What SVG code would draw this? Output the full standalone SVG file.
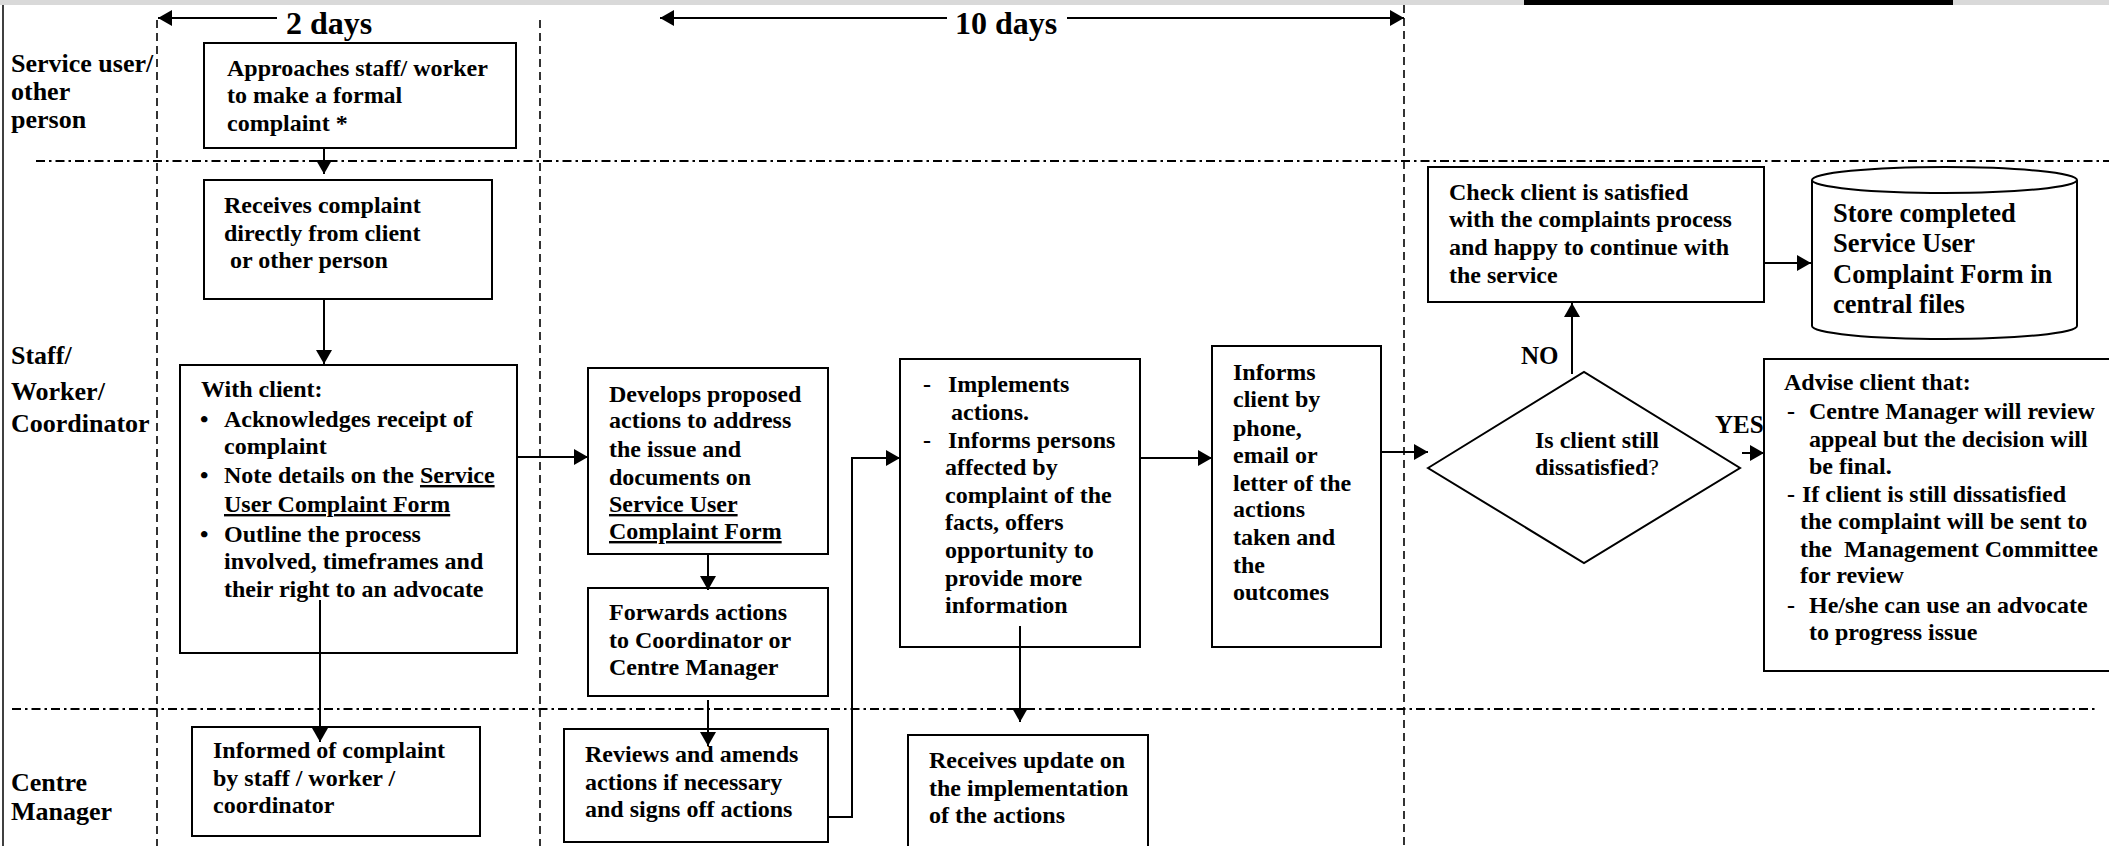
<svg xmlns="http://www.w3.org/2000/svg" width="2109" height="846" viewBox="0 0 2109 846">
<defs>
<style>
.t{font-family:"Liberation Serif","Times New Roman",serif;font-weight:bold;font-size:24px;fill:#000}
.lane{font-size:26px}
.big{font-size:32px}
.store{font-size:26.5px}
.lbl{font-size:25px}
.u{text-decoration:underline}
.box{fill:#fff;stroke:#000;stroke-width:2}
.conn{fill:none;stroke:#000;stroke-width:2}
.dd{fill:none;stroke:#000;stroke-width:1.8;stroke-dasharray:9 4 2.5 4}
.vd{fill:none;stroke:#000;stroke-width:1.6;stroke-dasharray:8 5}
</style>
<marker id="ah" markerUnits="userSpaceOnUse" markerWidth="15" markerHeight="16" refX="14" refY="8" orient="auto-start-reverse" viewBox="0 0 15 16">
<path d="M0,0 L14,8 L0,16 z" fill="#000"/>
</marker>
</defs>
<rect x="0" y="0" width="2109" height="846" fill="#fff"/>
<g id="page">
<rect x="0" y="0" width="2109" height="5" fill="#d9d9d9"/>
<rect x="1524" y="0" width="429" height="5" fill="#000"/>
<line x1="3" y1="5" x2="3" y2="846" stroke="#000" stroke-width="1.5"/>
</g>
<g id="lanes">
<line class="dd" x1="36" y1="161" x2="2109" y2="161"/>
<line class="dd" x1="12" y1="709" x2="2097" y2="709"/>
<line class="vd" x1="157" y1="20" x2="157" y2="846"/>
<line class="vd" x1="540" y1="20" x2="540" y2="846"/>
<line class="vd" x1="1404" y1="5" x2="1404" y2="846"/>
<text class="t lane" x="11" y="72">Service user/</text>
<text class="t lane" x="11" y="100">other</text>
<text class="t lane" x="11" y="128">person</text>
<text class="t lane" x="11" y="364">Staff/</text>
<text class="t lane" x="11" y="400">Worker/</text>
<text class="t lane" x="11" y="432">Coordinator</text>
<text class="t lane" x="11" y="791">Centre</text>
<text class="t lane" x="11" y="820">Manager</text>
</g>
<g id="timeline">
<line class="conn" x1="277" y1="18" x2="158" y2="18" marker-end="url(#ah)"/>
<text class="t big" x="286" y="34">2 days</text>
<line class="conn" x1="947" y1="18" x2="660" y2="18" marker-end="url(#ah)"/>
<text class="t big" x="955" y="34">10 days</text>
<line class="conn" x1="1067" y1="18" x2="1404" y2="18" marker-end="url(#ah)"/>
</g>
<g id="n-approaches">
<rect class="box" x="204" y="43" width="312" height="105"/>
<text class="t" x="227" y="76">Approaches staff/ worker</text>
<text class="t" x="227" y="103">to make a formal</text>
<text class="t" x="227" y="131">complaint *</text>
</g>
<g id="n-receives">
<rect class="box" x="204" y="180" width="288" height="119"/>
<text class="t" x="224" y="213">Receives complaint</text>
<text class="t" x="224" y="241">directly from client</text>
<text class="t" x="230" y="268">or other person</text>
</g>
<g id="n-withclient">
<rect class="box" x="180" y="365" width="337" height="288"/>
<text class="t" x="201" y="397">With client:</text>
<text class="t" x="200" y="427">•</text>
<text class="t" x="224" y="427">Acknowledges receipt of</text>
<text class="t" x="224" y="454">complaint</text>
<text class="t" x="200" y="483">•</text>
<text class="t" x="224" y="483">Note details on the <tspan class="u">Service</tspan></text>
<text class="t" x="224" y="512"><tspan class="u">User Complaint Form</tspan></text>
<text class="t" x="200" y="542">•</text>
<text class="t" x="224" y="542">Outline the process</text>
<text class="t" x="224" y="569">involved, timeframes and</text>
<text class="t" x="224" y="597">their right to an advocate</text>
</g>
<g id="n-informed">
<rect class="box" x="192" y="727" width="288" height="109"/>
<text class="t" x="213" y="758">Informed of complaint</text>
<text class="t" x="213" y="786">by staff / worker /</text>
<text class="t" x="213" y="813">coordinator</text>
</g>
<g id="n-develops">
<rect class="box" x="588" y="368" width="240" height="186"/>
<text class="t" x="609" y="402">Develops proposed</text>
<text class="t" x="609" y="428">actions to address</text>
<text class="t" x="609" y="457">the issue and</text>
<text class="t" x="609" y="485">documents on</text>
<text class="t u" x="609" y="512">Service User</text>
<text class="t u" x="609" y="539">Complaint Form</text>
</g>
<g id="n-forwards">
<rect class="box" x="588" y="588" width="240" height="108"/>
<text class="t" x="609" y="620">Forwards actions</text>
<text class="t" x="609" y="648">to Coordinator or</text>
<text class="t" x="609" y="675">Centre Manager</text>
</g>
<g id="n-reviews">
<rect class="box" x="564" y="729" width="264" height="113"/>
<text class="t" x="585" y="762">Reviews and amends</text>
<text class="t" x="585" y="790">actions if necessary</text>
<text class="t" x="585" y="817">and signs off actions</text>
</g>
<g id="n-implements">
<rect class="box" x="900" y="359" width="240" height="288"/>
<text class="t" x="923" y="392">-</text>
<text class="t" x="948" y="392">Implements</text>
<text class="t" x="951" y="420">actions.</text>
<text class="t" x="923" y="448">-</text>
<text class="t" x="948" y="448">Informs persons</text>
<text class="t" x="945" y="475">affected by</text>
<text class="t" x="945" y="503">complaint of the</text>
<text class="t" x="945" y="530">facts, offers</text>
<text class="t" x="945" y="558">opportunity to</text>
<text class="t" x="945" y="586">provide more</text>
<text class="t" x="945" y="613">information</text>
</g>
<g id="n-update">
<rect class="box" x="908" y="735" width="240" height="120"/>
<text class="t" x="929" y="768">Receives update on</text>
<text class="t" x="929" y="796">the implementation</text>
<text class="t" x="929" y="823">of the actions</text>
</g>
<g id="n-informs">
<rect class="box" x="1212" y="346" width="169" height="301"/>
<text class="t" x="1233" y="380">Informs</text>
<text class="t" x="1233" y="407">client by</text>
<text class="t" x="1233" y="436">phone,</text>
<text class="t" x="1233" y="463">email or</text>
<text class="t" x="1233" y="491">letter of the</text>
<text class="t" x="1233" y="517">actions</text>
<text class="t" x="1233" y="545">taken and</text>
<text class="t" x="1233" y="573">the</text>
<text class="t" x="1233" y="600">outcomes</text>
</g>
<g id="n-decision">
<polygon class="box" points="1428,468 1584,372 1740,468 1584,563"/>
<text class="t" x="1535" y="448">Is client still</text>
<text class="t" x="1535" y="475">dissatisfied<tspan font-weight="normal">?</tspan></text>
</g>
<g id="n-check">
<rect class="box" x="1428" y="167" width="336" height="135"/>
<text class="t" x="1449" y="200">Check client is satisfied</text>
<text class="t" x="1449" y="227">with the complaints process</text>
<text class="t" x="1449" y="255">and happy to continue with</text>
<text class="t" x="1449" y="283">the service</text>
</g>
<g id="n-store">
<path class="box" d="M1812,180 L1812,326 A132.5,13 0 0 0 2077,326 L2077,180 A132.5,13 0 0 0 1812,180 Z"/>
<path class="box" fill="none" d="M1812,180 A132.5,13 0 0 0 2077,180"/>
<text class="t store" x="1833" y="222">Store completed</text>
<text class="t store" x="1833" y="252">Service User</text>
<text class="t store" x="1833" y="283">Complaint Form in</text>
<text class="t store" x="1833" y="313">central files</text>
</g>
<g id="n-advise">
<rect class="box" x="1764" y="359" width="360" height="312"/>
<text class="t" x="1784" y="390">Advise client that:</text>
<text class="t" x="1787" y="419">-</text>
<text class="t" x="1809" y="419">Centre Manager will review</text>
<text class="t" x="1809" y="447">appeal but the decision will</text>
<text class="t" x="1809" y="474">be final.</text>
<text class="t" x="1787" y="502">-</text>
<text class="t" x="1802" y="502">If client is still dissatisfied</text>
<text class="t" x="1800" y="529">the complaint will be sent to</text>
<text class="t" x="1800" y="557" xml:space="preserve">the  Management Committee</text>
<text class="t" x="1800" y="583">for review</text>
<text class="t" x="1787" y="613">-</text>
<text class="t" x="1809" y="613">He/she can use an advocate</text>
<text class="t" x="1809" y="640">to progress issue</text>
</g>
<g id="connectors">
<line class="conn" x1="324" y1="148" x2="324" y2="174" marker-end="url(#ah)"/>
<line class="conn" x1="324" y1="299" x2="324" y2="364" marker-end="url(#ah)"/>
<line class="conn" x1="320" y1="600" x2="320" y2="742" marker-end="url(#ah)"/>
<line class="conn" x1="517" y1="457" x2="588" y2="457" marker-end="url(#ah)"/>
<line class="conn" x1="708" y1="554" x2="708" y2="590" marker-end="url(#ah)"/>
<line class="conn" x1="708" y1="700" x2="708" y2="746" marker-end="url(#ah)"/>
<polyline class="conn" points="828,817 852,817 852,458 900,458" marker-end="url(#ah)"/>
<line class="conn" x1="1020" y1="626" x2="1020" y2="722" marker-end="url(#ah)"/>
<line class="conn" x1="1140" y1="458" x2="1212" y2="458" marker-end="url(#ah)"/>
<line class="conn" x1="1381" y1="452" x2="1428" y2="452" marker-end="url(#ah)"/>
<line class="conn" x1="1572" y1="374" x2="1572" y2="303" marker-end="url(#ah)"/>
<line class="conn" x1="1764" y1="263" x2="1811" y2="263" marker-end="url(#ah)"/>
<line class="conn" x1="1742" y1="453" x2="1764" y2="453" marker-end="url(#ah)"/>
<text class="t lbl" x="1521" y="364">NO</text>
<text class="t lbl" x="1715" y="433">YES</text>
</g>
</svg>
